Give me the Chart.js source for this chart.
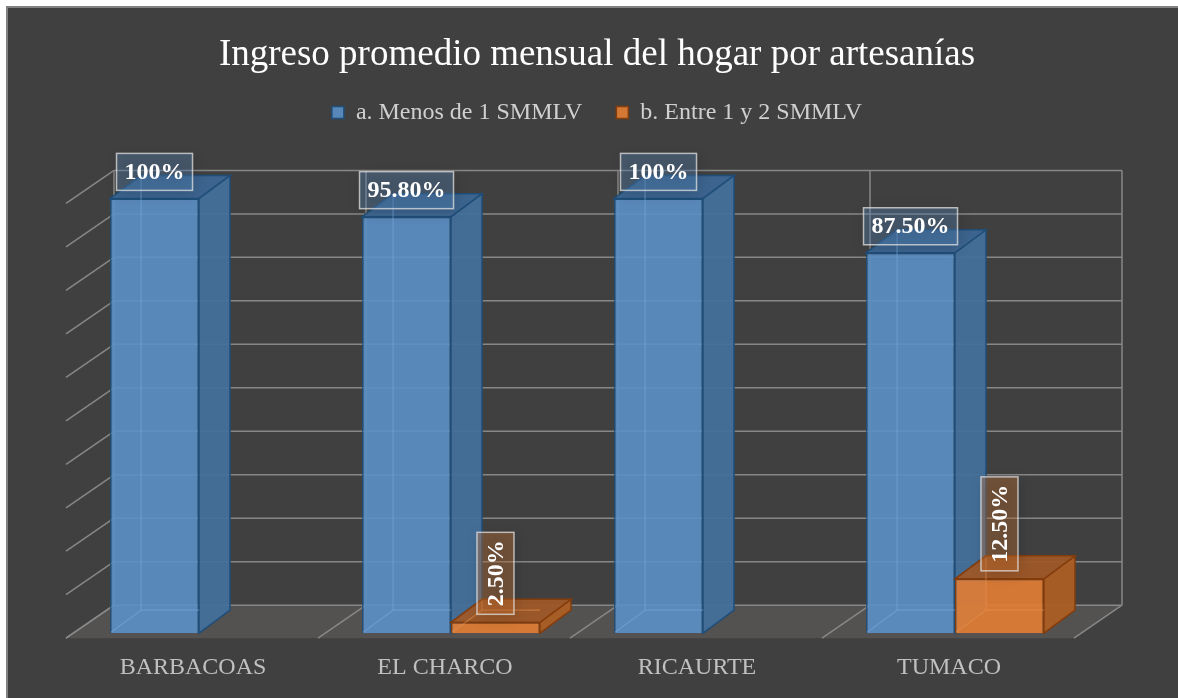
<!DOCTYPE html>
<html>
<head>
<meta charset="utf-8">
<title>Ingreso promedio mensual del hogar por artesanías</title>
<script src="https://cdn.jsdelivr.net/npm/chart.js@4.4.1/dist/chart.umd.min.js"></script>
<style>
  html, body { margin: 0; padding: 0; background: #ffffff; overflow: hidden; width: 1178px; height: 698px; }
  #wrap { position: absolute; left: 6px; top: 6px; width: 1172px; height: 692px; overflow: hidden; }
  #chart { display: block; }
</style>
</head>
<body>
<div id="wrap"><canvas id="chart" width="1182" height="700"></canvas></div>
<script>
const categories = ['BARBACOAS', 'EL CHARCO', 'RICAURTE', 'TUMACO'];
const menosDe1 = [100, 95.8, 100, 87.5];
const entre1y2 = [0, 2.5, 0, 12.5];
const seriesNames = ['a. Menos de 1 SMMLV', 'b. Entre 1 y 2 SMMLV'];
const yTicks = [0, 10, 20, 30, 40, 50, 60, 70, 80, 90, 100];

const serif = "'Liberation Serif', 'Times New Roman', serif";

// fake 3d: offsets from the bar plane (chart area) to the front/back of the floor
const FRONT = { x: -7, y: 5 };
const BACK = { x: 41, y: -28 };
const BAR_DEPTH = { x: 31, y: -23 };

const faces = [
  { side: 'rgba(68,112,155,0.95)', top: 'rgba(60,102,146,0.95)', edge: '#1f4e79', inner: 'rgba(120,170,222,0.55)', box: 'rgba(91,143,199,0.32)' },
  { side: 'rgba(172,95,36,0.95)', top: 'rgba(158,88,40,0.95)', edge: '#843c0c', inner: 'rgba(240,150,80,0.5)', box: 'rgba(222,124,52,0.32)' },
];

function pct(v) {
  return (v % 1 === 0 ? v : v.toFixed(2)) + '%';
}

function poly(ctx, pts, fill, stroke) {
  ctx.beginPath();
  ctx.moveTo(pts[0][0], pts[0][1]);
  for (let i = 1; i < pts.length; i++) ctx.lineTo(pts[i][0], pts[i][1]);
  ctx.closePath();
  if (fill) { ctx.fillStyle = fill; ctx.fill(); }
  if (stroke) { ctx.strokeStyle = stroke; ctx.lineWidth = 1.5; ctx.stroke(); }
}

function line(ctx, x1, y1, x2, y2) {
  ctx.beginPath();
  ctx.moveTo(x1, y1);
  ctx.lineTo(x2, y2);
  ctx.stroke();
}

const scene3d = {
  id: 'scene3d',
  beforeDraw(chart) {
    const { ctx, width, height } = chart;
    ctx.save();
    ctx.fillStyle = '#404040';
    ctx.fillRect(0, 0, width, height);
    ctx.fillStyle = '#828282';
    ctx.fillRect(0, 0, width, 2);
    ctx.fillRect(0, 0, 2, height);
    ctx.restore();
  },
  beforeDatasetsDraw(chart) {
    const { ctx, chartArea: a, scales: { y } } = chart;
    const bottom = y.getPixelForValue(0);
    const top = y.getPixelForValue(yTicks[yTicks.length - 1]);
    const n = chart.data.labels.length;
    ctx.save();
    // floor
    poly(ctx, [
      [a.left + FRONT.x, bottom + FRONT.y], [a.right + FRONT.x, bottom + FRONT.y],
      [a.right + BACK.x, bottom + BACK.y], [a.left + BACK.x, bottom + BACK.y],
    ], '#545151');
    ctx.strokeStyle = '#878787';
    ctx.lineWidth = 1.5;
    yTicks.forEach((v) => {
      const py = y.getPixelForValue(v);
      line(ctx, a.left + BACK.x, py + BACK.y, a.right + BACK.x, py + BACK.y);
      line(ctx, a.left + BACK.x, py + BACK.y, a.left + FRONT.x, py + FRONT.y);
    });
    for (let i = 0; i <= n; i++) {
      const ex = a.left + (a.right - a.left) * i / n;
      line(ctx, ex + BACK.x, top + BACK.y, ex + BACK.x, bottom + BACK.y);
      line(ctx, ex + BACK.x, bottom + BACK.y, ex + FRONT.x, bottom + FRONT.y);
    }
    ctx.restore();
  },
  beforeDatasetDraw() {
    return false;
  },
  afterDatasetsDraw(chart) {
    const { ctx } = chart;
    const dx = BAR_DEPTH.x;
    const dy = BAR_DEPTH.y;
    ctx.save();
    chart.data.datasets.forEach((ds, di) => {
      const f = faces[di];
      chart.getDatasetMeta(di).data.forEach((bar, j) => {
        if (!ds.data[j]) return;
        const { x, y, base, width } = bar.getProps(['x', 'y', 'base', 'width'], true);
        const l = x - width / 2;
        const r = x + width / 2;
        poly(ctx, [[r, y], [r + dx, y + dy], [r + dx, base + dy], [r, base]], f.side, f.edge);
        poly(ctx, [[l, y], [r, y], [r + dx, y + dy], [l + dx, y + dy]], f.top, f.edge);
        bar.draw(ctx);
        // hidden back edges seen through the glassy front
        ctx.strokeStyle = f.inner;
        ctx.lineWidth = 1.2;
        line(ctx, l + dx, y + dy + 2, l + dx, base + dy);
        line(ctx, l + 1, base - 1, l + dx, base + dy);
        line(ctx, l + dx, base + dy, r, base + dy);
      });
    });

    // value callouts
    ctx.font = 'bold 24px ' + serif;
    ctx.textAlign = 'center';
    ctx.textBaseline = 'middle';
    chart.data.datasets.forEach((ds, di) => {
      const f = faces[di];
      chart.getDatasetMeta(di).data.forEach((bar, j) => {
        const v = ds.data[j];
        if (!v) return;
        const text = pct(v);
        const tw = ctx.measureText(text).width + 16;
        const th = 37;
        ctx.save();
        ctx.translate(bar.x, bar.y - 8);
        if (di === 1) ctx.rotate(-Math.PI / 2);
        const bx = di === 1 ? 0 : -tw / 2;
        const by = di === 1 ? -th / 2 : -th;
        ctx.shadowColor = 'rgba(0,0,0,0.45)';
        ctx.shadowBlur = 14;
        ctx.shadowOffsetX = 2;
        ctx.shadowOffsetY = 3;
        ctx.fillStyle = f.box;
        ctx.fillRect(bx, by, tw, th);
        ctx.shadowColor = 'transparent';
        ctx.strokeStyle = 'rgba(225,225,225,0.75)';
        ctx.lineWidth = 1.5;
        ctx.strokeRect(bx, by, tw, th);
        ctx.fillStyle = '#ffffff';
        ctx.fillText(text, bx + tw / 2, by + th / 2 + 1);
        ctx.restore();
      });
    });
    ctx.restore();
  },
};

const hiddenAxis = {
  grid: { display: false, drawTicks: false },
  border: { display: false },
  ticks: { display: false },
};

new Chart(document.getElementById('chart'), {
  type: 'bar',
  data: {
    labels: categories,
    datasets: [
      {
        label: seriesNames[0],
        data: menosDe1,
        backgroundColor: 'rgba(91,143,199,0.9)',
        borderColor: '#1f4e79',
        borderWidth: 1.5,
      },
      {
        label: seriesNames[1],
        data: entre1y2,
        backgroundColor: 'rgba(224,125,52,0.92)',
        borderColor: '#843c0c',
        borderWidth: 1.5,
      },
    ],
  },
  options: {
    responsive: false,
    devicePixelRatio: 1,
    animation: false,
    categoryPercentage: 0.706,
    barPercentage: 1,
    layout: { padding: { left: 0, right: 0, top: 0, bottom: 4 } },
    plugins: {
      title: {
        display: true,
        text: 'Ingreso promedio mensual del hogar por artesanías',
        color: '#ffffff',
        font: { family: serif, size: 37, weight: 'normal' },
        padding: { top: 27, bottom: -11 },
      },
      legend: {
        labels: {
          color: '#d0d0d0',
          font: { family: serif, size: 24 },
          boxWidth: 12,
          boxHeight: 12,
          padding: 34,
        },
      },
      tooltip: { enabled: false },
    },
    scales: {
      spacer: {
        type: 'category',
        position: 'top',
        ...hiddenAxis,
        afterFit(scale) { scale.height = 64; },
      },
      x: {
        grid: { display: false, drawTicks: false },
        border: { display: false },
        ticks: {
          color: '#c0c0c0',
          font: { family: serif, size: 24 },
          padding: 20,
          labelOffset: -6,
          maxRotation: 0,
          autoSkip: false,
        },
      },
      y: {
        min: 0,
        max: 100,
        ...hiddenAxis,
        ticks: { display: false, stepSize: 10 },
        afterFit(scale) { scale.width = 67; },
      },
      yRight: {
        type: 'linear',
        position: 'right',
        ...hiddenAxis,
        afterFit(scale) { scale.width = 107; },
      },
    },
  },
  plugins: [scene3d],
});
</script>
</body>
</html>
